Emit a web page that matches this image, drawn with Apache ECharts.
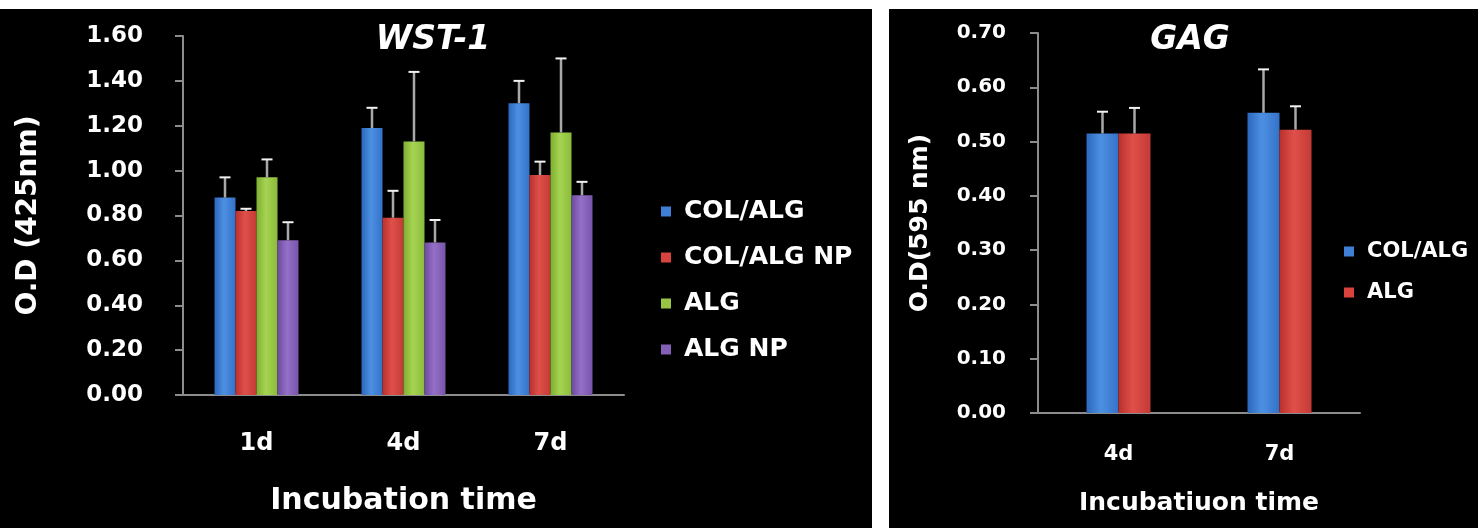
<!DOCTYPE html>
<html><head><meta charset="utf-8">
<script src="https://cdn.jsdelivr.net/npm/echarts@6/dist/echarts.min.js"></script>
<style>
html,body{margin:0;padding:0;background:#fff;width:1478px;height:528px;overflow:hidden;position:relative}
#c1{position:absolute;left:0;top:9px;width:872px;height:519px;background:#000}
#c2{position:absolute;left:889px;top:9px;width:589px;height:519px;background:#000}
</style></head><body>
<div id="c1"></div><div id="c2"></div>
<script>
// ---- WST-1 data ----
const wstCategories = ['1d', '4d', '7d'];
const wstNames = ['COL/ALG', 'COL/ALG NP', 'ALG', 'ALG NP'];
const wstColAlg = [0.88, 1.19, 1.30];
const wstColAlgErr = [0.09, 0.09, 0.10];
const wstColAlgNP = [0.82, 0.79, 0.98];
const wstColAlgNPErr = [0.01, 0.12, 0.06];
const wstAlg = [0.97, 1.13, 1.17];
const wstAlgErr = [0.08, 0.31, 0.33];
const wstAlgNP = [0.69, 0.68, 0.89];
const wstAlgNPErr = [0.08, 0.10, 0.06];
const wstYTicks = [0, 1.6, 0.2]; // min, max, interval

// ---- GAG data ----
const gagCategories = ['4d', '7d'];
const gagNames = ['COL/ALG', 'ALG'];
const gagColAlg = [0.515, 0.553];
const gagColAlgErr = [0.04, 0.08];
const gagAlg = [0.515, 0.522];
const gagAlgErr = [0.047, 0.043];
const gagYTicks = [0, 0.7, 0.1];

const FONT = '"DejaVu Sans", sans-serif';
const palette = {
  blue: ['#2c68bd', '#4d90e2', '#3372c8'],
  red: ['#b9302c', '#e0504a', '#c33a35'],
  green: ['#7fae32', '#a6d452', '#8bbb3b'],
  purple: ['#6d4a9e', '#9470c8', '#7854aa']
};
const solid = {blue: '#3f80d6', red: '#d8433e', green: '#98c644', purple: '#835fb8'};

function grad(c) {
  return new echarts.graphic.LinearGradient(0, 0, 1, 0, [
    {offset: 0, color: c[0]}, {offset: 0.45, color: c[1]}, {offset: 1, color: c[2]}
  ]);
}

function barSeries(name, values, colorKey, barW) {
  return {
    name: name, type: 'bar', data: values, barWidth: barW, barGap: '0%',
    itemStyle: {color: grad(palette[colorKey])}, z: 2
  };
}

function errSeries(name, values, errs, idx, n, barW) {
  return {
    name: name, type: 'custom', z: 3,
    data: values.map((v, i) => [i, v, errs[i]]),
    renderItem: function (params, api) {
      const c = api.value(0), v = api.value(1), e = api.value(2);
      const off = (idx - (n - 1) / 2) * barW;
      const p0 = api.coord([c, v]);
      const p1 = api.coord([c, v + e]);
      const x = p0[0] + off;
      return {
        type: 'group',
        children: [
          {type: 'line', shape: {x1: x, y1: p0[1], x2: x, y2: p1[1]}, style: {stroke: '#a8a8a8', lineWidth: 2.5}},
          {type: 'line', shape: {x1: x - 5.5, y1: p1[1], x2: x + 5.5, y2: p1[1]}, style: {stroke: '#f2f2f2', lineWidth: 2}}
        ]
      };
    }
  };
}

function axisCommon() {
  return {
    axisLine: {show: true, lineStyle: {color: '#8c8c8c', width: 2}},
  };
}

// ---------------- Chart 1 : WST-1 ----------------
const BW1 = 21;
const c1 = echarts.init(document.getElementById('c1'), null, {renderer: 'canvas'});
const wstVals = [wstColAlg, wstColAlgNP, wstAlg, wstAlgNP];
const wstErrs = [wstColAlgErr, wstColAlgNPErr, wstAlgErr, wstAlgNPErr];
const wstColors = ['blue', 'red', 'green', 'purple'];
const s1 = [];
wstNames.forEach((n, i) => s1.push(barSeries(n, wstVals[i], wstColors[i], BW1)));
wstNames.forEach((n, i) => s1.push(errSeries(n, wstVals[i], wstErrs[i], i, wstNames.length, BW1)));

c1.setOption({
  backgroundColor: '#000',
  animation: false,
  grid: {left: 183, right: 248, top: 27, bottom: 133},
  graphic: [{
    type: 'text', x: 433, y: 31,
    style: {text: 'WST-1', font: 'italic bold 33px ' + FONT, fill: '#fff', align: 'center', verticalAlign: 'middle'}
  }],
  legend: {
    orient: 'vertical', left: 656, top: 185, itemWidth: 10, itemHeight: 10, itemGap: 21,
    icon: 'rect',
    textStyle: {color: '#fff', fontFamily: FONT, fontWeight: 'bold', fontSize: 25, padding: [0, 0, 0, 8]},
    data: wstNames.map((n, i) => ({name: n, itemStyle: {color: solid[wstColors[i]]}}))
  },
  xAxis: Object.assign(axisCommon(), {
    type: 'category', data: wstCategories,
    axisTick: {show: false},
    axisLabel: {color: '#fff', fontFamily: FONT, fontWeight: 'bold', fontSize: 24, margin: 37},
    name: 'Incubation time', nameLocation: 'middle', nameGap: 91,
    nameTextStyle: {color: '#fff', fontFamily: FONT, fontWeight: 'bold', fontSize: 30}
  }),
  yAxis: Object.assign(axisCommon(), {
    type: 'value', min: wstYTicks[0], max: wstYTicks[1], interval: wstYTicks[2],
    splitLine: {show: false},
    axisTick: {show: true, length: 8, lineStyle: {color: '#8c8c8c', width: 2}},
    axisLabel: {color: '#fff', fontFamily: FONT, fontWeight: 'bold', fontSize: 23, margin: 40,
      formatter: v => v.toFixed(2)},
    name: 'O.D (425nm)', nameLocation: 'middle', nameGap: 140, nameRotate: 90,
    nameTextStyle: {color: '#fff', fontFamily: FONT, fontWeight: 'bold', fontSize: 28}
  }),
  series: s1
});

// ---------------- Chart 2 : GAG ----------------
const BW2 = 32;
const c2 = echarts.init(document.getElementById('c2'), null, {renderer: 'canvas'});
const gagVals = [gagColAlg, gagAlg];
const gagErrs = [gagColAlgErr, gagAlgErr];
const gagColors = ['blue', 'red'];
const s2 = [];
gagNames.forEach((n, i) => s2.push(barSeries(n, gagVals[i], gagColors[i], BW2)));
gagNames.forEach((n, i) => s2.push(errSeries(n, gagVals[i], gagErrs[i], i, gagNames.length, BW2)));

c2.setOption({
  backgroundColor: '#000',
  animation: false,
  grid: {left: 149, right: 118, top: 24, bottom: 115},
  graphic: [{
    type: 'text', x: 301, y: 31,
    style: {text: 'GAG', font: 'italic bold 33px ' + FONT, fill: '#fff', align: 'center', verticalAlign: 'middle'}
  }],
  legend: {
    orient: 'vertical', left: 450, top: 227, itemWidth: 10, itemHeight: 10, itemGap: 20,
    icon: 'rect',
    textStyle: {color: '#fff', fontFamily: FONT, fontWeight: 'bold', fontSize: 21, padding: [0, 0, 0, 8]},
    data: gagNames.map((n, i) => ({name: n, itemStyle: {color: solid[gagColors[i]]}}))
  },
  xAxis: Object.assign(axisCommon(), {
    type: 'category', data: gagCategories,
    axisTick: {show: false},
    axisLabel: {color: '#fff', fontFamily: FONT, fontWeight: 'bold', fontSize: 21, margin: 31},
    name: 'Incubatiuon time', nameLocation: 'middle', nameGap: 78,
    nameTextStyle: {color: '#fff', fontFamily: FONT, fontWeight: 'bold', fontSize: 25}
  }),
  yAxis: Object.assign(axisCommon(), {
    type: 'value', min: gagYTicks[0], max: gagYTicks[1], interval: gagYTicks[2],
    splitLine: {show: false},
    axisTick: {show: true, length: 8, lineStyle: {color: '#8c8c8c', width: 2}},
    axisLabel: {color: '#fff', fontFamily: FONT, fontWeight: 'bold', fontSize: 20, margin: 32,
      formatter: v => v.toFixed(2)},
    name: 'O.D(595 nm)', nameLocation: 'middle', nameGap: 105, nameRotate: 90,
    nameTextStyle: {color: '#fff', fontFamily: FONT, fontWeight: 'bold', fontSize: 25}
  }),
  series: s2
});
</script>
</body></html>
